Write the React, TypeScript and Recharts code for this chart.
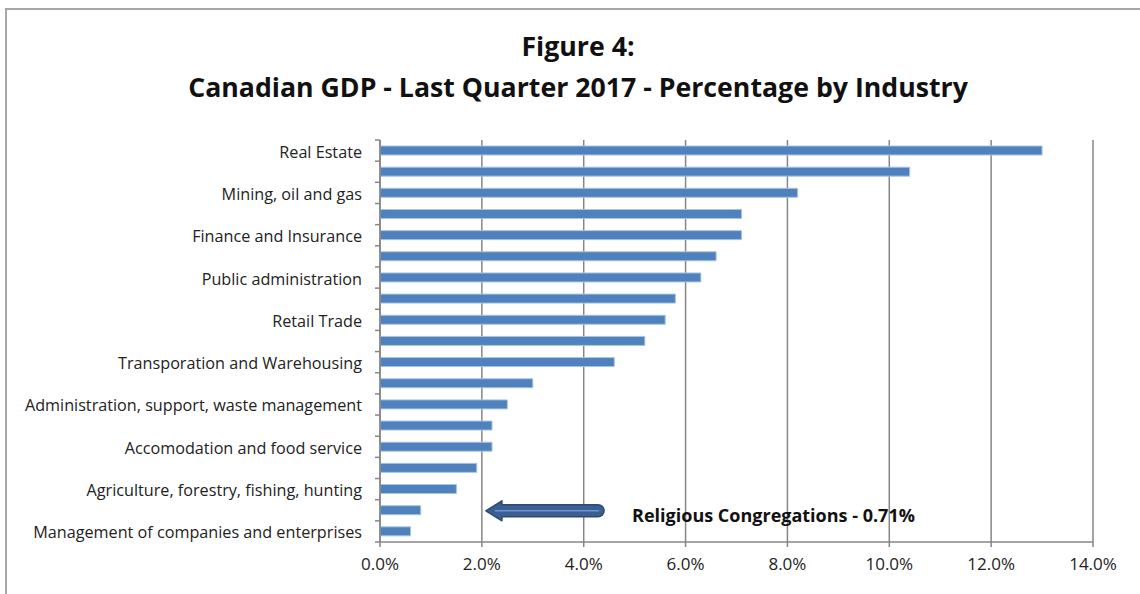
import React from "react";
import {
  BarChart,
  Bar,
  XAxis,
  YAxis,
  CartesianGrid,
  ReferenceLine,
} from "recharts";

// Industries in chart order (top to bottom); only every other one is labelled in the original
const industries = [
  "Real Estate",
  "Manufacturing",
  "Mining, oil and gas",
  "Construction",
  "Finance and Insurance",
  "Health care and social assistance",
  "Public administration",
  "Professional, scientific and technical",
  "Retail Trade",
  "Wholesale Trade",
  "Transporation and Warehousing",
  "Educational services",
  "Administration, support, waste management",
  "Information and cultural industries",
  "Accomodation and food service",
  "Utilities",
  "Agriculture, forestry, fishing, hunting",
  "Other services",
  "Management of companies and enterprises",
];

// Share of GDP, percent
const shares = [
  13.0, 10.4, 8.2, 7.1, 7.1, 6.6, 6.3, 5.8, 5.6, 5.2, 4.6, 3.0, 2.5, 2.2, 2.2,
  1.9, 1.5, 0.8, 0.6,
];

const xTicks = [0, 2, 4, 6, 8, 10, 12, 14];

const annotation = {
  text: "Religious Congregations - 0.71%",
  category: industries[17],
  from: 4.4,
  to: 2.08,
};

const data = industries.map((name, i) => ({ name, value: shares[i] }));

const W = 1140;
const H = 594;
const MARGIN = { top: 140, right: 47, bottom: 22, left: 0 };
const X_AXIS_H = 30;
const BAND = (H - MARGIN.top - MARGIN.bottom - X_AXIS_H) / industries.length;
const FONT = "'Open Sans', sans-serif";
const GRID = "#868686";

function CategoryTick(props: any) {
  const { x, y, payload, index } = props;
  const top = y - BAND / 2;
  return (
    <g>
      <line x1={x - 5} x2={x} y1={top} y2={top} stroke={GRID} strokeWidth={1.5} />
      {index === industries.length - 1 && (
        <line x1={x - 5} x2={x} y1={y + BAND / 2} y2={y + BAND / 2} stroke={GRID} strokeWidth={1.5} />
      )}
      {index % 2 === 0 && (
        <text
          x={x - 18}
          y={y + 1}
          textAnchor="end"
          dominantBaseline="central"
          fontSize={16.2}
          fill="#222"
          fontFamily={FONT}
        >
          {payload.value}
        </text>
      )}
    </g>
  );
}

function ArrowShape(props: any) {
  const { x1, y1, x2 } = props;
  const right = Math.max(x1, x2);
  const left = Math.min(x1, x2);
  const y = y1 + 0.5;
  const half = 6;
  const head = 16;
  const headHalf = 10;
  const d = [
    `M ${left} ${y}`,
    `L ${left + head} ${y - headHalf}`,
    `L ${left + head} ${y - half}`,
    `L ${right - half} ${y - half}`,
    `A ${half} ${half} 0 0 1 ${right - half} ${y + half}`,
    `L ${left + head} ${y + half}`,
    `L ${left + head} ${y + headHalf}`,
    "Z",
  ].join(" ");
  return (
    <g>
      <path d={d} fill="#3b5f93" stroke="#2c4a76" strokeWidth={1.5} strokeLinejoin="round" />
      <line x1={left + 9} x2={right - 5} y1={y} y2={y} stroke="#6b95cc" strokeWidth={1.5} />
      <text
        x={right + 28}
        y={y + 4.5}
        dominantBaseline="central"
        fontSize={18}
        fontWeight="bold"
        fill="#111"
        fontFamily={FONT}
      >
        {annotation.text}
      </text>
    </g>
  );
}

export default function App() {
  return (
    <div style={{ position: "absolute", left: 0, top: 0, width: W, height: H, background: "#fff" }}>
      <div
        style={{
          position: "absolute",
          left: 5,
          top: 8,
          right: 0,
          bottom: 0,
          borderLeft: "2px solid #a6a6a6",
          borderTop: "2px solid #a6a6a6",
        }}
      />
      <div
        style={{
          position: "absolute",
          left: 0,
          width: 1156,
          top: 25,
          textAlign: "center",
          fontFamily: FONT,
          fontWeight: "bold",
          fontSize: 26.7,
          lineHeight: "41px",
          color: "#111",
        }}
      >
        <div>Figure 4:</div>
        <div>Canadian GDP - Last Quarter 2017 - Percentage by Industry</div>
      </div>
      <div style={{ position: "absolute", left: 0, top: 0 }}>
        <BarChart width={W} height={H} data={data} layout="vertical" margin={MARGIN}>
          <CartesianGrid horizontal={false} stroke={GRID} strokeWidth={1.5} />
          <XAxis
            type="number"
            domain={[0, 14]}
            ticks={xTicks}
            tickFormatter={(v: number) => `${v.toFixed(1)}%`}
            height={X_AXIS_H}
            stroke={GRID}
            strokeWidth={1.5}
            tickSize={5}
            tickMargin={11}
            tick={{ fill: "#222", fontSize: 17, fontFamily: FONT }}
          />
          <YAxis
            type="category"
            dataKey="name"
            width={380}
            interval={0}
            tickLine={false}
            tickSize={0}
            tickMargin={0}
            stroke={GRID}
            strokeWidth={1.5}
            tick={<CategoryTick />}
          />
          <Bar
            dataKey="value"
            fill="#4f81bd"
            stroke="#a9c3e3"
            strokeWidth={1}
            barSize={9}
            isAnimationActive={false}
          />
          <ReferenceLine
            segment={[
              { x: annotation.from, y: annotation.category },
              { x: annotation.to, y: annotation.category },
            ]}
            shape={ArrowShape}
          />
        </BarChart>
      </div>
    </div>
  );
}
